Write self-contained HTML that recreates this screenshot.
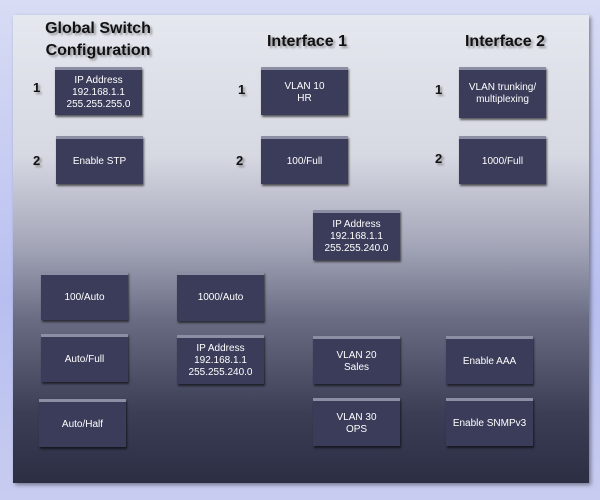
<!DOCTYPE html>
<html><head><style>
body{margin:0;width:600px;height:500px;overflow:hidden;background:#c4c8ec;font-family:"Liberation Sans",sans-serif}
.outer{position:absolute;left:0;top:0;width:600px;height:500px;background:linear-gradient(180deg,#d8dcf4,#b8bff0 60%,#c8ccf0)}
.panel{position:absolute;left:13px;top:15px;width:576px;height:468px;background:linear-gradient(180deg,#e6e8f0 0%,#d6d8e2 30%,#a8aabc 48%,#6a6c84 65%,#3c3e56 85%,#2c2e44 100%);box-shadow:2px 2px 4px rgba(0,0,0,.4)}
.b{position:absolute;width:87px;height:48px;background:#3a3c5a;border-top:3px solid #8c8ea4;box-sizing:border-box;color:#fff;font-size:10px;display:flex;align-items:center;justify-content:center;text-align:center;line-height:12px;box-shadow:1px 2px 2px rgba(0,0,0,.6)}
.h{position:absolute;font-weight:bold;font-size:16px;color:#111;text-align:center;text-shadow:2px 2px 2px rgba(0,0,0,.35)}
.n{position:absolute;font-weight:bold;font-size:13px;color:#111;text-shadow:2px 2px 2px rgba(0,0,0,.35)}
</style></head><body>
<div class="outer"></div>
<div class="panel"></div>
<div class="h" style="left:38px;top:18px;width:120px;line-height:22px">Global Switch<br>Configuration</div>
<div class="h" style="left:250px;top:33px;width:114px">Interface 1</div>
<div class="h" style="left:448px;top:33px;width:114px">Interface 2</div>
<div class="n" style="left:33px;top:80px">1</div>
<div class="n" style="left:33px;top:153px">2</div>
<div class="n" style="left:238px;top:82px">1</div>
<div class="n" style="left:236px;top:153px">2</div>
<div class="n" style="left:435px;top:82px">1</div>
<div class="n" style="left:435px;top:151px">2</div>
<div class="b" style="left:55px;top:67px">IP Address<br>192.168.1.1<br>255.255.255.0</div>
<div class="b" style="left:56px;top:136px">Enable STP</div>
<div class="b" style="left:261px;top:67px">VLAN 10<br>HR</div>
<div class="b" style="left:261px;top:136px">100/Full</div>
<div class="b" style="left:459px;top:67px;height:51px">VLAN trunking/<br>multiplexing</div>
<div class="b" style="left:459px;top:136px">1000/Full</div>
<div class="b" style="left:313px;top:210px;height:50px">IP Address<br>192.168.1.1<br>255.255.240.0</div>
<div class="b" style="left:41px;top:272px">100/Auto</div>
<div class="b" style="left:177px;top:272px;height:49px">1000/Auto</div>
<div class="b" style="left:41px;top:334px">Auto/Full</div>
<div class="b" style="left:177px;top:335px;height:49px">IP Address<br>192.168.1.1<br>255.255.240.0</div>
<div class="b" style="left:39px;top:399px">Auto/Half</div>
<div class="b" style="left:313px;top:336px">VLAN 20<br>Sales</div>
<div class="b" style="left:446px;top:336px">Enable AAA</div>
<div class="b" style="left:313px;top:398px">VLAN 30<br>OPS</div>
<div class="b" style="left:446px;top:398px">Enable SNMPv3</div>
</body></html>
